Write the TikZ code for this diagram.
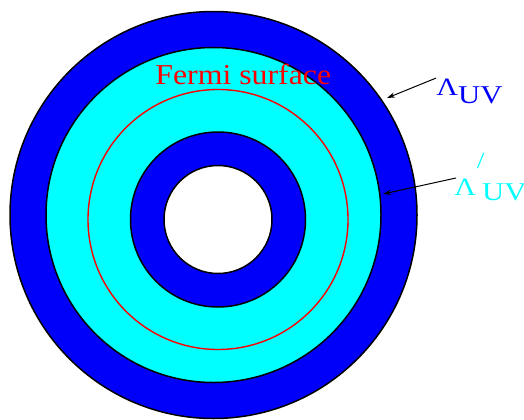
\documentclass[tikz,border=0pt]{standalone}
\usepackage{fontspec}
\setmainfont{Liberation Serif}
\usetikzlibrary{arrows.meta}

\definecolor{ringblue}{RGB}{0,0,250}
\definecolor{ringcyan}{RGB}{0,255,255}

\begin{document}
\begin{tikzpicture}[x=0.5pt, y=0.5pt,
        ring/.style={draw=black, line width=0.75pt},
        lab/.style={inner sep=0pt, xscale=1.2, transform shape},
        pointer/.style={-{Stealth[length=4pt,width=2.6pt]}, line width=0.5pt}]
        \useasboundingbox (0,0) rectangle (524,419);
        \coordinate (co) at (213.5,204);
        \coordinate (ci) at (218,199.5);

        \draw[ring, fill=ringblue] (co) circle (203.5);
        \draw[ring, fill=ringcyan] (co) circle (167.5);
        \draw[red, line width=0.7pt] (ci) circle (130);
        \draw[ring, fill=ringblue] (ci) circle (87.5);
        \draw[ring, fill=white] (ci) circle (54);

        \node[lab, text=red, anchor=base west, xscale=0.92, font=\fontsize{14.4}{15}\selectfont] (fermi) at (155,335) {Fermi surface};
        \node[lab, text=ringblue, anchor=base west] (uv) at (436,324)
            {{\fontsize{12.5}{12}\selectfont Λ}\raisebox{-4pt}{\fontsize{12.8}{13}\selectfont UV}};
        \node[lab, text=ringcyan, anchor=base west] (uvp) at (454,224)
            {{\fontsize{12.5}{12}\selectfont Λ}\hspace{0.3pt}\rlap{\raisebox{13.5pt}{\fontsize{11.6}{12}\selectfont /}}\hspace{2.2pt}\raisebox{-2.5pt}{\fontsize{12.8}{13}\selectfont UV}};

        \coordinate (edge) at (387,321);
        \coordinate (inner) at (383,225);
        \draw[pointer] (uv.north west) -- (edge);
        \draw[pointer] ([shift={(2,17)}]uvp.base west) -- (inner);
\end{tikzpicture}
\end{document}
